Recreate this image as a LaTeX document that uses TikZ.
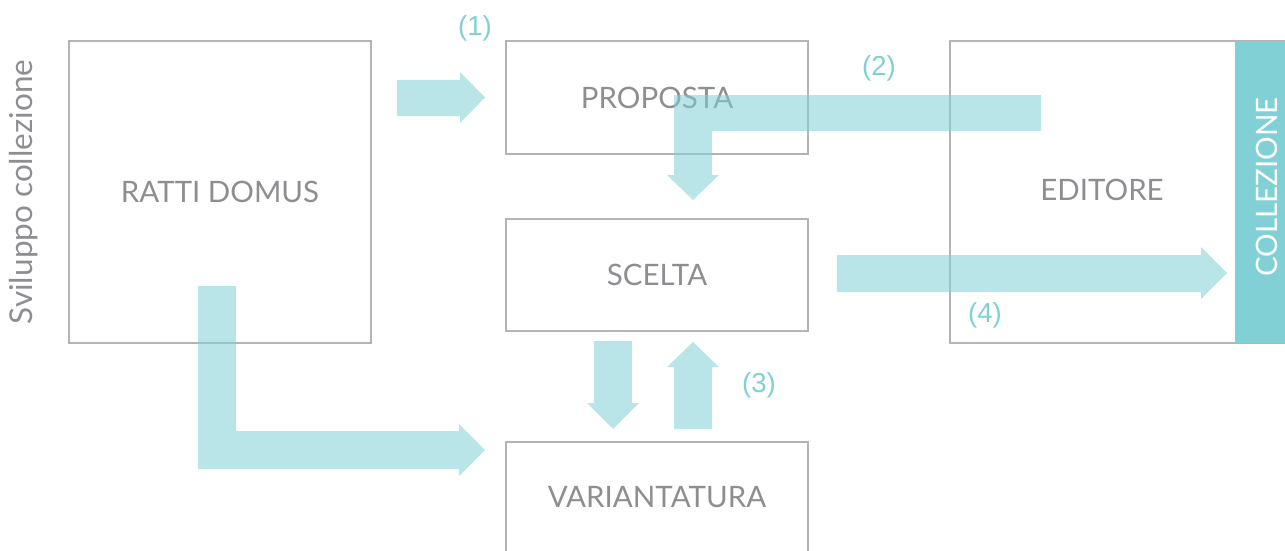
\documentclass[tikz,border=0pt]{standalone}
\usepackage{fontspec}
\setmainfont{Lato}
\newfontfamily\labfont{Liberation Sans}
\definecolor{boxgray}{HTML}{B4B4B8}
\definecolor{txtgray}{HTML}{8E8E92}
\definecolor{teal}{HTML}{80D0D6}
\tikzset{
  bigtext/.style={font=\fontsize{29.5}{32}\selectfont, text=txtgray},
  stepbox/.style={draw=boxgray, line width=2.8pt, fill=none, bigtext},
  flow/.style={fill=teal, fill opacity=0.55, draw=none},
  numlabel/.style={font=\labfont\fontsize{27.5}{30}\selectfont, text=teal},
}
\begin{document}
\begin{tikzpicture}[x=1pt,y=-1pt]
\useasboundingbox (0,0) rectangle (1285,551);
% boxes
\node[stepbox, minimum width=302pt, minimum height=302pt] (ratti) at (220,192) {RATTI DOMUS};
\node[stepbox, minimum width=302pt, minimum height=113pt] (proposta) at (657,97.5) {PROPOSTA};
\node[stepbox, minimum width=302pt, minimum height=112pt] (scelta) at (657,275) {SCELTA};
\node[stepbox, minimum width=302pt, minimum height=113pt] (varia) at (657,498.5) {};
\node[bigtext] (variatxt) at (657,497) {VARIANTATURA};
\node[stepbox, minimum width=338pt, minimum height=302pt] (editore) at (1119,192) {};
\node[bigtext] (editxt) at (1102,190) {EDITORE};
\fill[teal] (1235,41) rectangle (1287,343);
\node[rotate=90, bigtext, text=white] (coll) at (1267,187) {COLLEZIONE};
% side title
\node[rotate=90, text=txtgray, font=\fontsize{31.5}{34}\selectfont] (svil) at (24,192) {Sviluppo collezione};
% arrows
\fill[flow] (397,80) -- (460,80) -- (460,72) -- (485,97.5) -- (460,123) -- (460,116) -- (397,116) -- cycle;
\fill[flow] (1041,95) -- (1041,131) -- (712,131) -- (712,175) -- (719,175) -- (693,200) -- (667,175) -- (674,175) -- (674,95) -- cycle;
\fill[flow] (837,255) -- (1201,255) -- (1201,247) -- (1227,273) -- (1201,299) -- (1201,292) -- (837,292) -- cycle;
\fill[flow] (594,341) -- (632,341) -- (632,403) -- (639,403) -- (613,429) -- (587,403) -- (594,403) -- cycle;
\fill[flow] (674,429) -- (712,429) -- (712,367) -- (719,367) -- (693,342) -- (667,367) -- (674,367) -- cycle;
\fill[flow] (198,286) -- (236,286) -- (236,431) -- (459,431) -- (459,424) -- (485,450) -- (459,476) -- (459,469) -- (198,469) -- cycle;
% labels
\node[numlabel] (l1) at (475,28) {(1)};
\node[numlabel] (l2) at (879,68) {(2)};
\node[numlabel] (l3) at (759,385) {(3)};
\node[numlabel] (l4) at (985,315) {(4)};
\end{tikzpicture}
\end{document}
